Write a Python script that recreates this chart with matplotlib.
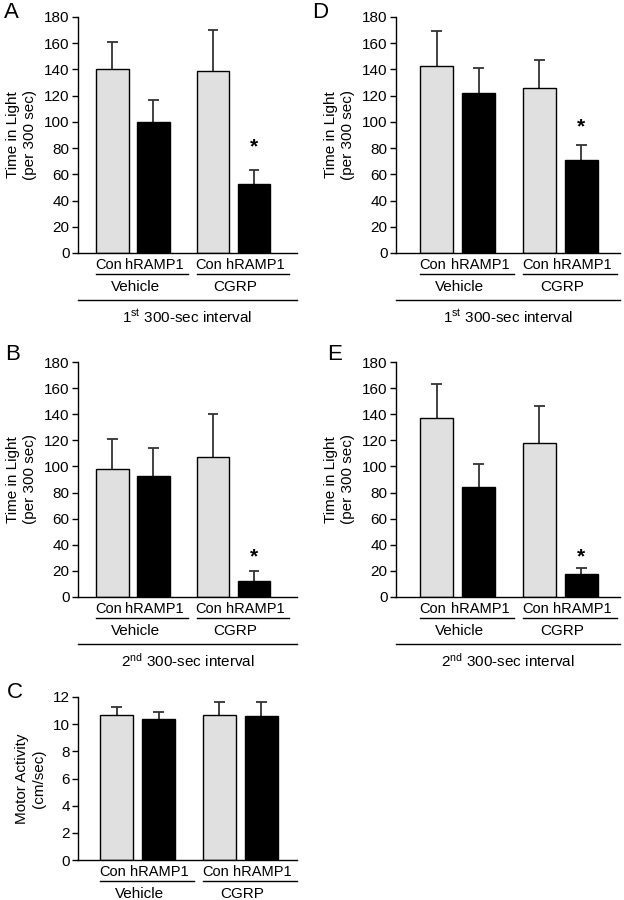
import matplotlib
matplotlib.use("Agg")
import matplotlib.pyplot as plt
from matplotlib.transforms import blended_transform_factory

plt.rcParams["font.family"] = ["Liberation Sans", "DejaVu Sans"]
plt.rcParams["mathtext.fontset"] = "custom"
plt.rcParams["mathtext.rm"] = "Liberation Sans"
plt.rcParams["mathtext.it"] = "Liberation Sans:italic"

# bar order: Con/Vehicle, hRAMP1/Vehicle, Con/CGRP, hRAMP1/CGRP
barLabels = ["Con", "hRAMP1", "Con", "hRAMP1"]
groupLabels = ["Vehicle", "CGRP"]
barColors = ["#e0e0e0", "#000000", "#e0e0e0", "#000000"]

meansA = [140, 100, 139, 53]
errsA = [21, 17, 31, 10]
meansB = [98, 93, 107, 12]
errsB = [23, 21, 33, 8]
meansC = [10.7, 10.4, 10.7, 10.6]
errsC = [0.6, 0.5, 0.9, 1.0]
meansD = [143, 122, 126, 71]
errsD = [26, 19, 21, 11]
meansE = [137, 84, 118, 18]
errsE = [26, 18, 28, 4]

starY = {"A": 81, "B": 31, "D": 96, "E": 31}

timeLabel = "Time in Light\n(per 300 sec)"
motorLabel = "Motor Activity\n(cm/sec)"
interval1 = "1$^{\\mathrm{st}}$ 300-sec interval"
interval2 = "2$^{\\mathrm{nd}}$ 300-sec interval"

timeTicks = list(range(0, 181, 20))
motorTicks = list(range(0, 13, 2))

xPos = [0, 1, 2.45, 3.45]
labelShift = [-0.1, 0.03, -0.1, 0.03]
W, H = 624, 900

fig = plt.figure(figsize=(6.24, 9), dpi=100)


def addAxes(left, top, right, bottom):
    return fig.add_axes([left / W, 1 - bottom / H, (right - left) / W, (bottom - top) / H])


def drawPanel(ax, means, errs, ticks, ylabel, xlim, letter, letterXY, star=None, interval=None):
    ax.bar(xPos, means, 0.8, color=barColors, edgecolor="black", linewidth=1.0, zorder=2)
    tops = [m + e for m, e in zip(means, errs)]
    ax.vlines(xPos, means, tops, color="#333333", lw=1.3, zorder=1)
    ax.hlines(tops, [x - 0.13 for x in xPos], [x + 0.13 for x in xPos], color="#333333", lw=1.3, zorder=1)
    ax.set_ylim(ticks[0], ticks[-1])
    ax.set_yticks(ticks)
    ax.set_xlim(*xlim)
    ax.set_xticks([])
    ax.tick_params(axis="y", labelsize=11, length=4, width=1.0, direction="out", pad=2)
    for s in ["top", "right"]:
        ax.spines[s].set_visible(False)
    for s in ["left", "bottom"]:
        ax.spines[s].set_linewidth(1.0)
    ax.set_ylabel(ylabel, fontsize=11, labelpad=5, linespacing=1.25)

    hPx = ax.get_position().height * H
    tr = blended_transform_factory(ax.transData, ax.transAxes)
    for x, dx, lab in zip(xPos, labelShift, barLabels):
        ax.text(x + dx, -12 / hPx, lab, transform=tr, ha="center", va="center", fontsize=10.5)
    for g, name in enumerate(groupLabels):
        x0 = xPos[2 * g] - 0.4
        x1 = xPos[2 * g + 1] + 0.85
        ax.plot([x0, x1], [-21 / hPx, -21 / hPx], color="black", lw=1.0, transform=tr, clip_on=False)
        xc = (xPos[2 * g] + xPos[2 * g + 1]) / 2 + 0.05
        ax.text(xc, -34 / hPx, name, transform=tr, ha="center", va="center", fontsize=11)
    if interval is not None:
        ax.plot([0, 1], [-47 / hPx, -47 / hPx], color="black", lw=1.0, transform=ax.transAxes, clip_on=False)
        ax.text(0.5, -64 / hPx, interval, transform=ax.transAxes, ha="center", va="center", fontsize=11)
    if star is not None:
        ax.text(xPos[3], star, "*", ha="center", va="center", fontsize=15, fontweight="bold")
    fig.text(letterXY[0] / W, 1 - letterXY[1] / H, letter, ha="center", va="center", fontsize=16)


axA = addAxes(78, 17, 297, 253)
drawPanel(axA, meansA, errsA, timeTicks, timeLabel, (-0.84, 4.5), "A", (11, 12), starY["A"], interval1)

axD = addAxes(396, 17, 620, 253)
drawPanel(axD, meansD, errsD, timeTicks, timeLabel, (-0.97, 4.37), "D", (320, 12), starY["D"], interval1)

axB = addAxes(78, 362, 297, 597)
drawPanel(axB, meansB, errsB, timeTicks, timeLabel, (-0.84, 4.5), "B", (13, 354), starY["B"], interval2)

axE = addAxes(396, 362, 620, 597)
drawPanel(axE, meansE, errsE, timeTicks, timeLabel, (-0.97, 4.37), "E", (335, 355), starY["E"], interval2)

axC = addAxes(78, 697, 297, 860)
drawPanel(axC, meansC, errsC, motorTicks, motorLabel, (-0.92, 4.3), "C", (15, 692))

fig.savefig("out.png", dpi=100)
